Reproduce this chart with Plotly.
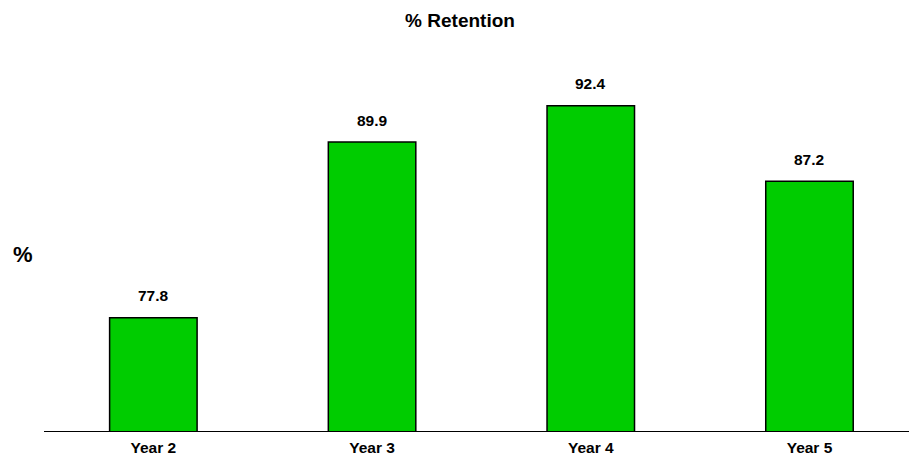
import plotly.graph_objects as go

categories = ["Year 2", "Year 3", "Year 4", "Year 5"]
retention = [77.8, 89.9, 92.4, 87.2]

FONT = "Liberation Sans, Arial, sans-serif"

fig = go.Figure()
fig.add_trace(go.Bar(
    x=categories,
    y=retention,
    width=0.4,
    marker=dict(color="#00CC00", line=dict(color="#000000", width=1.5)),
    hoverinfo="x+y",
))

# value labels above each bar
for c, v in zip(categories, retention):
    fig.add_annotation(
        x=c, y=v, text=f"<b>{v:.1f}</b>", showarrow=False,
        yanchor="middle", yshift=22,
        font=dict(family=FONT, size=15.5, color="#000000"),
    )

# y-axis caption
fig.add_annotation(
    xref="paper", yref="paper", x=-0.0243, y=(431 - 254) / 391,
    xanchor="center", yanchor="middle",
    text="<b>%</b>", showarrow=False,
    font=dict(family=FONT, size=22, color="#000000"),
)

fig.update_layout(
    width=909, height=457,
    margin=dict(l=44, r=0, t=40, b=26),
    paper_bgcolor="#FFFFFF", plot_bgcolor="#FFFFFF",
    title=dict(
        text="<b>% Retention</b>", xref="container", x=460 / 909, xanchor="center",
        yref="container", y=1 - 20 / 457, yanchor="middle",
        font=dict(family=FONT, size=19, color="#000000"),
    ),
    showlegend=False,
    xaxis=dict(
        range=[-0.5, 3.455], showline=True, linecolor="#000000", linewidth=1,
        showgrid=False, ticks="", zeroline=False,
        tickfont=dict(family=FONT, size=15.5, color="#000000"),
        ticklabelstandoff=2,
        tickvals=categories, ticktext=[f"<b>{c}</b>" for c in categories],
    ),
    yaxis=dict(
        range=[70, 96.93], showline=False, showgrid=False, zeroline=False,
        showticklabels=False, ticks="",
    ),
)

fig.write_html("out.html")
